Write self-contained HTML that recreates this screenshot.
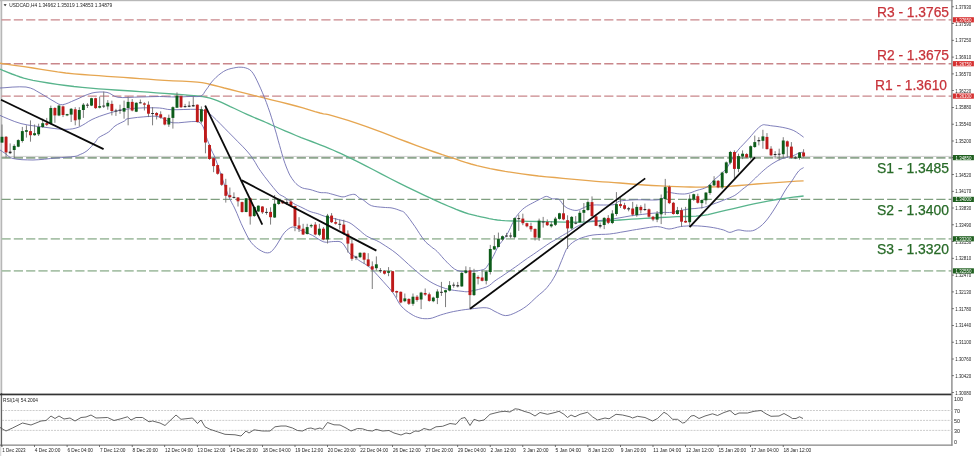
<!DOCTYPE html>
<html><head><meta charset="utf-8"><title>USDCAD H4</title>
<style>html,body{margin:0;padding:0;background:#fff;}body{width:975px;height:456px;overflow:hidden;position:relative;font-family:"Liberation Sans",sans-serif;}</style>
</head><body>
<svg width="975" height="456" viewBox="0 0 975 456" style="position:absolute;left:0;top:0;filter:blur(0.3px)">
<rect width="975" height="456" fill="#fff"/>
<rect x="0" y="0" width="1.3" height="456" fill="#dadada"/>
<rect x="1.2" y="0" width="1.0" height="394" fill="#a8a8a8"/>
<rect x="1.1" y="393" width="1.0" height="53.5" fill="#555"/>
<rect x="0" y="0" width="952.5" height="1.2" fill="#b8b8b8"/>
<line x1="1.5" y1="19.8" x2="951.9" y2="19.8" stroke="#c9868a" stroke-width="1.35" stroke-dasharray="9.2 3.1"/>
<line x1="1.5" y1="63.7" x2="951.9" y2="63.7" stroke="#c9868a" stroke-width="1.35" stroke-dasharray="9.2 3.1"/>
<line x1="1.5" y1="96.1" x2="951.9" y2="96.1" stroke="#c9868a" stroke-width="1.35" stroke-dasharray="9.2 3.1"/>
<line x1="1.5" y1="156.4" x2="951.9" y2="156.4" stroke="#b8b8b8" stroke-width="0.7"/>
<line x1="1.5" y1="157.9" x2="951.9" y2="157.9" stroke="#8ea78e" stroke-width="1.6" stroke-dasharray="9.2 3.1"/>
<line x1="1.5" y1="199.4" x2="951.9" y2="199.4" stroke="#7f9f7f" stroke-width="1.1" stroke-dasharray="9.2 3.1"/>
<line x1="1.5" y1="238.8" x2="951.9" y2="238.8" stroke="#a9c2a9" stroke-width="1.7" stroke-dasharray="9.2 3.1"/>
<line x1="1.5" y1="270.9" x2="951.9" y2="270.9" stroke="#a9c2a9" stroke-width="1.7" stroke-dasharray="9.2 3.1"/>
<polyline points="0.0,63.2 5.9,64.1 14.4,65.3 24.0,66.7 33.0,68.0 41.2,69.3 49.4,70.6 57.6,71.9 65.8,73.0 74.0,73.8 82.2,74.5 90.5,75.1 98.7,75.7 106.9,76.3 115.2,76.9 123.4,77.4 131.6,78.0 139.8,78.6 148.0,79.2 156.3,79.8 164.5,80.3 173.2,80.8 182.2,81.2 190.6,81.7 197.4,82.2 201.9,82.7 204.8,83.2 207.2,83.7 210.5,84.5 214.7,85.5 219.2,86.6 224.3,88.0 230.3,89.5 237.6,91.3 245.8,93.4 254.5,95.6 263.0,97.7 271.4,99.8 280.0,101.9 288.4,104.0 296.0,106.0 302.9,107.9 309.3,109.8 315.0,111.6 320.0,113.0 323.5,113.8 325.9,114.2 328.5,114.7 332.9,115.8 339.7,117.8 348.1,120.4 357.1,123.4 365.8,126.3 374.0,129.3 382.2,132.4 390.5,135.6 398.7,138.8 407.2,142.0 416.0,145.3 424.3,148.4 431.6,151.0 437.5,153.0 442.3,154.7 446.7,156.1 451.3,157.6 456.1,159.2 460.7,160.8 465.6,162.4 471.0,164.0 477.0,165.6 483.4,167.1 490.2,168.6 497.4,170.0 505.2,171.4 513.5,172.7 521.9,173.9 530.3,175.0 538.5,176.0 546.6,176.8 554.8,177.5 563.0,178.3 571.4,179.1 580.0,179.9 588.4,180.6 596.0,181.3 602.6,181.8 608.5,182.2 614.2,182.6 620.0,183.0 625.9,183.5 631.6,184.0 637.6,184.5 644.3,185.0 652.1,185.5 660.7,185.9 669.3,186.3 677.2,186.6 684.0,186.8 690.1,187.0 696.0,187.1 702.0,187.1 708.6,187.0 715.5,186.9 721.7,186.8 726.6,186.6 728.9,186.5 729.3,186.4 730.0,186.3 733.0,186.0 739.2,185.5 747.4,184.8 756.6,184.0 765.8,183.3 775.8,182.6 786.7,181.9 796.7,181.2 803.6,180.8" fill="none" stroke="#e6a651" stroke-width="1.35" stroke-linejoin="round"/>
<polyline points="0.0,69.0 2.9,70.3 7.2,72.1 11.9,74.0 16.4,75.7 20.2,77.0 23.7,78.1 27.7,79.2 33.0,80.3 40.1,81.6 48.4,83.0 57.2,84.3 65.8,85.5 74.0,86.5 82.2,87.3 90.5,88.1 98.7,88.8 106.9,89.4 115.2,90.0 123.4,90.5 131.6,91.0 139.8,91.6 148.0,92.2 156.3,92.8 164.5,93.4 173.1,94.0 182.0,94.6 190.3,95.3 197.4,96.0 202.7,96.7 206.6,97.4 210.1,98.2 213.8,99.3 217.9,100.8 222.0,102.7 226.2,104.6 230.3,106.6 234.5,108.5 238.7,110.5 242.9,112.5 247.0,114.4 251.1,116.2 255.3,118.0 259.3,119.6 263.0,121.2 266.1,122.5 268.7,123.7 271.5,125.0 275.0,126.5 279.6,128.5 285.0,130.8 290.6,133.2 296.0,135.5 301.2,137.6 306.5,139.6 311.6,141.5 316.4,143.4 320.8,145.1 324.9,146.7 328.9,148.3 332.9,150.0 337.0,151.8 341.1,153.7 345.2,155.6 349.3,157.6 353.0,159.4 356.5,161.1 360.5,163.1 365.8,165.8 372.9,169.5 381.2,173.9 390.1,178.5 398.7,182.9 407.3,187.1 416.2,191.4 424.5,195.4 431.6,198.7 436.9,201.1 440.8,202.9 444.3,204.4 448.0,206.0 452.1,207.7 456.2,209.4 460.4,211.0 464.5,212.5 468.6,213.8 472.8,214.9 476.9,215.9 481.0,216.8 485.1,217.7 489.2,218.6 493.3,219.4 497.4,220.0 501.1,220.4 504.6,220.7 508.5,220.8 513.8,221.0 520.9,221.2 529.2,221.4 538.1,221.5 546.7,221.7 555.2,221.9 563.9,222.1 572.3,222.2 579.6,222.2 585.6,222.0 590.6,221.7 595.2,221.3 600.0,221.0 604.9,220.8 609.8,220.5 614.7,220.3 620.0,220.0 625.6,219.6 631.3,219.2 637.5,218.8 644.3,218.4 652.1,218.0 660.7,217.5 669.3,217.1 677.2,216.7 684.0,216.5 690.1,216.4 696.0,216.2 702.0,215.6 708.1,214.6 714.1,213.2 720.2,211.7 726.6,210.2 733.5,208.6 740.8,206.8 748.1,205.1 755.0,203.6 761.5,202.3 767.8,201.1 773.9,200.0 780.0,199.0 786.6,198.1 793.4,197.2 799.4,196.5 803.6,196.0" fill="none" stroke="#58b48c" stroke-width="1.35" stroke-linejoin="round"/>
<polyline points="0.0,88.0 5.0,87.7 12.1,87.1 19.7,86.8 26.0,87.0 30.3,88.0 33.8,89.4 36.8,91.2 40.0,93.0 43.6,95.1 47.3,97.4 50.9,99.6 54.0,101.4 56.4,102.8 58.3,103.9 60.2,104.6 62.5,104.7 65.2,104.1 68.2,103.0 71.5,101.5 75.0,100.0 79.0,98.3 83.3,96.2 87.8,94.4 92.0,93.0 96.0,92.3 99.9,92.0 103.6,92.0 107.0,92.4 109.8,93.4 112.1,94.8 114.6,96.3 118.0,97.3 122.8,97.6 128.5,97.5 134.4,97.2 140.0,97.0 145.1,96.9 150.2,96.7 155.0,96.6 159.5,96.5 163.7,96.6 167.5,96.8 171.3,96.9 175.0,97.0 178.9,96.9 182.8,96.8 186.5,96.6 190.0,96.5 193.2,96.5 196.1,96.6 198.8,96.5 201.0,96.0 202.6,95.0 203.7,93.6 204.7,91.9 206.0,90.0 207.7,87.7 209.6,84.9 211.6,82.1 213.8,79.6 216.1,77.3 218.6,75.1 221.2,73.1 223.7,71.4 226.2,70.1 228.7,69.2 231.1,68.5 233.6,68.0 236.1,67.5 238.6,67.2 241.1,67.2 243.4,67.4 245.6,67.9 247.7,68.6 249.7,69.7 251.6,71.4 253.4,73.8 255.1,76.8 256.8,80.2 258.6,84.0 260.5,88.2 262.5,92.8 264.5,97.7 266.4,102.6 268.1,107.4 269.8,112.2 271.4,117.2 273.0,122.4 274.7,128.1 276.5,134.2 278.1,140.2 279.6,145.4 280.8,149.7 281.8,153.3 282.8,156.7 283.8,160.0 285.0,163.5 286.3,167.0 287.6,170.2 288.8,173.0 289.9,175.2 291.0,177.0 292.0,178.6 293.0,180.0 294.0,181.3 294.9,182.5 295.9,183.5 297.0,184.5 298.2,185.5 299.6,186.4 301.0,187.3 302.6,188.0 304.3,188.5 306.0,188.8 307.9,189.1 310.0,189.5 312.4,190.2 315.1,191.1 317.7,191.9 320.0,192.5 321.8,192.7 323.4,192.7 324.9,192.7 326.6,192.8 328.6,193.2 330.7,193.8 332.9,194.4 335.0,195.0 337.1,195.6 339.1,196.2 341.1,196.7 343.0,196.9 344.8,196.7 346.5,196.1 348.1,195.5 349.6,195.0 351.1,194.7 352.5,194.4 353.8,194.3 355.0,194.5 356.1,195.1 357.2,196.1 358.2,197.1 359.2,198.0 360.1,198.5 361.0,198.9 362.0,199.3 363.3,200.0 365.0,201.3 366.9,202.9 369.1,204.5 371.5,205.7 374.2,206.4 377.2,206.8 380.2,207.1 383.0,207.3 385.4,207.5 387.7,207.6 389.9,207.7 392.0,208.0 394.1,208.5 396.2,209.1 398.2,209.8 400.0,210.5 401.4,211.0 402.5,211.3 403.7,212.0 405.3,213.5 407.4,216.1 409.9,219.4 412.5,223.1 415.0,226.6 417.3,230.1 419.6,233.7 421.9,237.1 424.0,240.0 426.0,242.3 428.0,244.1 429.9,245.6 431.6,247.0 433.0,248.2 434.3,249.0 435.6,250.0 437.2,251.5 439.4,253.8 441.8,256.6 444.4,259.6 447.0,262.2 449.4,264.6 451.8,266.9 454.3,268.9 457.0,270.4 460.0,271.2 463.3,271.5 466.7,271.4 470.0,271.3 473.5,271.1 477.2,270.8 480.6,270.3 483.3,269.6 485.1,268.7 486.3,267.6 487.2,266.2 488.2,264.7 489.4,262.9 490.7,260.9 492.0,258.7 493.2,256.4 494.4,254.0 495.6,251.4 496.8,248.9 498.0,246.6 499.2,244.7 500.5,243.2 501.7,241.6 503.0,240.0 504.3,238.3 505.5,236.5 506.8,234.6 508.0,232.6 509.2,230.3 510.4,227.7 511.6,225.1 512.8,222.7 514.0,220.5 515.2,218.4 516.4,216.4 517.8,214.5 519.3,212.7 520.8,211.0 522.5,209.4 524.3,207.9 526.3,206.5 528.3,205.3 530.5,204.1 532.6,203.0 534.7,201.9 536.9,200.7 538.9,199.7 540.8,198.8 542.4,198.0 543.8,197.2 545.1,196.6 546.5,196.4 547.9,196.7 549.3,197.4 550.8,198.2 552.3,198.8 553.9,198.9 555.7,198.8 557.4,198.8 558.9,199.3 560.2,200.5 561.4,202.2 562.6,203.9 563.8,205.4 565.0,206.5 566.1,207.3 567.3,208.1 568.8,208.7 570.6,209.4 572.6,210.0 574.8,210.4 577.0,210.4 579.4,209.7 582.0,208.5 584.5,207.3 586.8,206.3 588.5,205.7 589.9,205.4 591.4,205.2 593.4,205.0 596.4,204.9 599.9,205.0 603.5,205.0 606.6,205.0 609.1,205.0 611.2,204.9 613.0,204.8 614.7,204.4 615.9,203.7 616.7,202.8 617.7,201.8 619.7,201.1 622.8,200.6 626.6,200.3 631.1,200.0 636.0,199.8 642.1,199.8 649.1,200.0 655.8,200.0 660.8,199.5 663.5,198.2 664.6,196.3 665.0,194.4 665.5,193.0 666.0,192.3 666.1,192.0 666.4,191.9 667.4,192.0 669.3,192.3 671.8,192.8 674.6,193.3 677.2,193.7 679.6,193.9 682.1,194.0 684.5,194.0 687.0,193.7 689.5,193.1 692.0,192.3 694.5,191.3 697.0,190.4 699.5,189.7 702.1,189.0 704.6,188.2 706.8,187.1 708.7,185.7 710.3,184.0 711.8,182.3 713.4,180.6 715.0,179.1 716.7,177.7 718.4,176.3 720.0,174.8 721.7,173.2 723.4,171.7 725.1,170.0 726.6,168.2 727.9,166.3 729.1,164.3 730.2,162.2 731.5,160.0 732.9,157.8 734.2,155.5 735.8,153.0 737.8,150.4 740.4,147.4 743.5,144.2 746.6,140.9 749.3,138.0 751.5,135.4 753.5,133.1 755.3,131.0 757.0,129.2 758.6,127.7 760.0,126.5 761.3,125.6 762.5,125.0 763.5,124.7 764.3,124.7 765.1,124.9 766.0,125.0 766.9,125.1 767.9,125.2 769.0,125.4 770.7,125.7 773.1,126.0 776.0,126.3 779.2,126.8 782.2,127.3 785.1,127.9 788.1,128.6 791.0,129.5 793.8,130.6 796.6,132.2 799.4,134.1 801.9,135.9 803.6,137.2" fill="none" stroke="#7070b2" stroke-width="0.9" stroke-linejoin="round"/>
<polyline points="0.0,115.4 3.6,117.0 8.8,119.2 14.8,121.6 21.0,123.6 27.8,125.0 35.2,126.1 42.6,127.0 49.0,127.8 54.1,128.5 58.4,129.0 62.3,129.3 66.0,129.4 69.5,129.2 72.8,128.8 75.8,128.1 79.0,127.0 82.2,125.4 85.4,123.5 88.6,121.4 92.0,119.5 95.6,117.9 99.3,116.4 103.1,115.1 107.0,113.8 110.9,112.6 114.9,111.5 118.9,110.5 123.0,109.7 127.1,109.1 131.3,108.6 135.6,108.2 140.0,108.0 144.9,107.8 150.1,107.8 155.1,107.8 159.5,108.0 162.7,108.4 165.1,108.9 167.7,109.4 171.4,109.7 177.0,109.7 183.9,109.5 190.6,109.3 196.0,109.3 199.4,109.5 201.6,109.8 203.2,110.3 205.0,111.0 206.8,111.8 208.3,112.7 210.1,114.1 212.6,116.3 216.1,119.6 220.2,123.7 224.7,128.3 229.0,132.7 233.4,137.1 238.0,141.8 242.4,146.2 246.0,150.0 248.6,153.0 250.5,155.4 252.0,157.6 253.7,160.0 255.3,162.5 256.7,165.0 258.4,167.9 260.8,171.4 264.4,176.3 268.9,182.1 273.4,187.7 277.0,192.0 279.4,194.3 281.1,195.4 282.5,196.0 284.3,197.0 286.6,198.6 289.0,200.3 291.5,202.1 293.7,203.5 295.6,204.6 297.3,205.4 298.9,206.1 300.8,207.0 303.0,208.1 305.4,209.3 307.8,210.5 310.0,211.5 311.9,212.1 313.6,212.6 315.3,213.0 317.2,213.5 319.4,214.3 321.9,215.3 324.4,216.2 326.6,217.0 328.5,217.5 330.2,217.8 331.8,218.1 333.7,218.5 335.9,219.0 338.4,219.6 340.8,220.1 343.0,220.7 344.9,221.2 346.6,221.6 348.2,222.2 350.0,223.0 351.9,224.2 353.9,225.7 355.9,227.3 358.0,229.0 360.1,230.7 362.2,232.6 364.4,234.4 366.6,236.0 369.0,237.3 371.6,238.5 374.1,239.5 376.4,240.5 378.1,241.4 379.5,242.1 381.0,243.0 383.0,244.3 385.7,246.0 388.9,248.1 392.3,250.4 396.0,253.2 399.9,256.5 404.1,260.3 408.4,264.3 412.6,268.0 416.7,271.5 420.8,275.0 424.9,278.2 429.0,281.0 433.1,283.4 437.2,285.4 441.4,287.1 445.5,288.5 449.8,289.6 454.3,290.4 458.5,290.9 462.0,291.3 464.4,291.6 466.0,291.8 467.6,291.7 470.0,291.3 473.7,290.5 478.3,289.5 482.8,288.2 486.6,286.9 489.3,285.5 491.3,283.9 493.1,282.3 495.0,280.8 496.9,279.5 498.7,278.3 500.7,277.1 503.0,275.5 505.9,273.5 509.3,271.2 512.7,268.8 515.8,266.7 518.3,264.9 520.5,263.3 522.6,261.7 525.0,260.0 527.7,258.1 530.7,256.1 533.7,254.1 536.7,252.0 539.8,249.8 543.1,247.6 546.2,245.4 549.0,243.5 551.3,242.0 553.4,240.9 555.3,239.8 557.5,238.5 560.0,237.0 562.7,235.4 565.4,233.8 568.0,232.3 570.4,230.7 572.8,229.2 575.0,227.7 577.0,226.5 578.6,225.7 579.8,225.1 581.1,224.6 582.5,224.0 584.2,223.3 586.1,222.5 588.0,221.7 590.0,221.2 591.8,221.0 593.6,220.9 595.7,220.9 598.4,220.7 601.8,220.3 605.8,219.8 610.2,219.3 614.8,218.6 619.7,217.8 624.9,216.9 630.3,215.9 636.0,215.1 642.3,214.4 649.0,213.6 655.5,213.0 660.8,212.6 664.5,212.4 667.2,212.5 669.5,212.5 672.3,212.3 675.7,211.7 679.4,210.9 683.2,210.0 687.0,209.3 690.9,208.8 694.9,208.5 698.7,208.1 702.0,207.7 704.4,207.2 706.1,206.7 707.8,206.0 710.0,205.2 713.0,204.1 716.4,202.9 720.0,201.6 723.3,200.3 726.4,199.1 729.4,198.0 732.2,196.7 734.8,195.4 737.1,193.8 739.2,192.1 741.2,190.4 743.0,188.8 744.7,187.6 746.1,186.5 747.6,185.4 749.3,184.0 751.2,182.2 753.3,180.1 755.5,178.0 757.6,175.9 759.7,174.0 761.7,172.1 763.8,170.2 765.8,168.5 767.8,166.9 769.9,165.4 771.9,164.0 774.0,162.7 776.0,161.5 778.0,160.4 780.0,159.5 782.2,158.6 784.6,157.9 787.2,157.3 789.7,156.7 792.0,156.1 793.9,155.4 795.7,154.6 797.2,153.8 798.7,153.2 800.2,152.8 801.6,152.4 802.8,152.2 803.6,152.0" fill="none" stroke="#7070b2" stroke-width="0.9" stroke-linejoin="round"/>
<polyline points="0.0,150.0 1.1,150.7 2.6,151.7 4.3,152.9 6.0,154.0 7.4,155.2 8.6,156.4 10.3,157.6 13.0,158.5 17.0,159.2 22.0,159.7 27.5,159.9 33.0,160.0 38.7,159.7 44.6,159.2 50.5,158.5 56.0,158.0 61.2,157.6 66.1,157.2 70.5,156.9 74.0,156.5 76.1,156.2 77.1,155.9 77.8,155.6 79.0,155.0 80.8,154.2 82.8,153.4 84.9,152.2 87.0,150.8 89.2,148.8 91.5,146.4 93.6,144.0 95.4,142.0 96.4,140.6 97.0,139.6 97.5,138.7 98.7,137.6 100.8,136.3 103.5,134.9 106.2,133.5 108.6,132.0 110.4,130.5 111.8,129.0 113.2,127.5 115.0,126.0 117.4,124.5 120.2,123.1 122.9,121.8 125.0,120.7 125.8,120.0 125.9,119.5 126.2,119.1 128.0,118.7 132.0,118.1 137.5,117.4 143.2,116.9 148.0,116.5 151.4,116.3 154.2,116.2 156.7,116.4 159.5,117.0 162.5,118.2 165.5,120.0 168.9,121.7 173.0,122.8 178.5,122.8 184.9,122.2 191.2,121.6 196.0,121.5 198.9,122.1 200.6,123.0 201.6,124.4 202.7,126.0 203.7,128.0 204.4,130.4 205.1,133.1 206.0,136.0 207.2,139.3 208.6,143.0 210.1,146.7 211.4,150.0 212.4,152.2 213.2,153.7 214.3,155.9 215.9,160.0 218.5,167.3 221.7,176.9 225.1,186.6 227.9,194.4 230.0,199.3 231.7,202.7 233.3,205.5 235.0,209.0 237.0,213.5 239.0,218.4 241.1,223.4 243.2,227.9 245.2,232.0 247.2,236.0 249.2,239.6 251.4,242.7 253.8,245.4 256.4,247.6 258.9,249.5 261.3,250.9 263.5,252.0 265.6,252.7 267.6,252.9 269.5,252.6 271.2,251.7 272.7,250.2 274.3,248.3 276.0,246.0 277.9,243.0 280.0,239.4 282.2,235.7 284.3,232.8 286.4,230.6 288.5,228.9 290.5,227.6 292.6,227.0 294.6,227.2 296.5,228.0 298.5,229.2 300.8,230.4 303.4,231.5 306.3,232.7 309.3,233.9 312.3,235.3 315.2,237.0 318.1,238.9 321.0,240.7 323.8,241.9 326.4,242.3 328.9,242.0 331.4,241.7 333.7,241.5 335.9,241.5 338.0,241.4 340.0,241.7 342.0,242.7 344.1,245.0 346.2,248.3 348.2,251.6 350.0,254.0 351.5,255.2 352.8,255.7 353.9,255.9 355.0,256.4 355.9,257.2 356.5,258.0 357.2,259.0 358.4,260.0 360.2,261.2 362.4,262.5 364.7,263.8 366.6,265.0 367.9,265.9 369.0,266.6 370.0,267.5 371.4,268.8 373.2,270.6 375.2,272.7 377.5,275.2 380.0,278.0 383.0,281.3 386.4,285.1 389.8,288.9 392.8,292.6 395.1,296.1 397.1,299.6 398.9,302.9 401.0,305.8 403.4,308.3 405.9,310.5 408.5,312.4 411.0,314.0 413.3,315.4 415.5,316.5 417.7,317.3 420.0,318.0 422.4,318.5 424.9,318.7 427.4,318.7 430.0,318.5 432.5,317.9 435.1,317.0 437.7,316.0 440.5,315.0 443.5,314.1 446.7,313.2 450.1,312.3 453.7,311.5 457.5,310.8 461.6,310.1 465.8,309.5 470.0,309.0 474.3,308.5 478.8,308.0 483.0,307.7 486.6,307.8 489.2,308.4 491.2,309.3 493.0,310.4 495.0,311.5 497.5,312.7 500.1,314.0 502.8,315.1 505.4,315.6 508.0,315.4 510.6,314.7 513.2,313.7 515.8,312.5 518.4,311.2 521.0,309.8 523.7,308.1 526.3,306.3 528.9,304.2 531.5,301.8 534.1,299.3 536.7,296.9 539.3,294.6 542.0,292.4 544.6,290.1 547.0,287.5 549.3,284.6 551.5,281.6 553.5,278.3 555.4,275.0 557.1,271.5 558.7,267.8 560.2,264.0 561.7,260.4 563.2,256.8 564.6,253.2 566.1,249.8 568.0,246.9 570.2,244.5 572.6,242.5 575.3,240.7 578.3,239.2 581.6,237.8 585.3,236.7 589.1,235.7 593.0,235.0 597.1,234.6 601.3,234.4 605.6,234.3 609.6,234.0 613.3,233.5 616.8,233.0 620.3,232.3 624.0,231.7 628.0,231.0 632.3,230.2 636.6,229.5 640.8,228.8 645.1,228.1 649.5,227.4 653.7,226.8 657.5,226.6 660.7,227.0 663.6,227.8 666.2,228.6 669.0,229.0 671.8,228.7 674.6,228.0 677.5,227.2 680.5,226.6 683.6,226.2 686.8,226.0 690.1,225.8 693.7,225.8 697.6,225.9 701.8,226.2 706.1,226.6 710.0,227.1 713.7,227.7 717.3,228.4 720.5,229.2 723.3,229.9 725.4,230.7 726.9,231.5 728.3,232.1 729.9,232.4 731.8,232.0 733.8,231.2 735.9,230.4 738.0,229.9 740.1,230.0 742.1,230.4 744.2,230.8 746.3,231.0 748.4,231.0 750.5,231.0 752.7,230.7 755.0,229.9 757.4,228.5 759.9,226.8 762.5,224.6 765.0,222.0 767.5,219.0 770.0,215.6 772.5,211.9 775.0,208.0 777.7,203.6 780.5,198.7 783.1,194.0 785.5,190.0 787.4,187.1 789.0,184.9 790.5,182.9 792.0,180.8 793.7,178.2 795.4,175.5 797.1,173.0 798.7,171.0 800.2,169.6 801.6,168.7 802.8,168.1 803.6,167.6" fill="none" stroke="#7070b2" stroke-width="0.9" stroke-linejoin="round"/>
<line x1="2.00" y1="124.5" x2="2.00" y2="142.6" stroke="#6e6e6e" stroke-width="0.9"/>
<rect x="0.55" y="136.8" width="2.9" height="5.8" fill="#0d5c1a"/>
<line x1="6.07" y1="136.0" x2="6.07" y2="157.4" stroke="#6e6e6e" stroke-width="0.9"/>
<rect x="4.62" y="136.8" width="2.9" height="15.6" fill="#be1a1a"/>
<line x1="10.14" y1="143.4" x2="10.14" y2="154.1" stroke="#6e6e6e" stroke-width="0.9"/>
<rect x="8.74" y="151.6" width="2.8" height="1.6" fill="#2a2a2a"/>
<line x1="14.21" y1="144.2" x2="14.21" y2="158.2" stroke="#6e6e6e" stroke-width="0.9"/>
<rect x="12.76" y="145.9" width="2.9" height="4.1" fill="#0d5c1a"/>
<line x1="18.28" y1="139.3" x2="18.28" y2="147.2" stroke="#6e6e6e" stroke-width="0.9"/>
<rect x="16.83" y="140.1" width="2.9" height="6.6" fill="#0d5c1a"/>
<line x1="22.34" y1="126.9" x2="22.34" y2="142.6" stroke="#6e6e6e" stroke-width="0.9"/>
<rect x="20.89" y="131.1" width="2.9" height="9.9" fill="#0d5c1a"/>
<line x1="26.41" y1="125.3" x2="26.41" y2="137.6" stroke="#6e6e6e" stroke-width="0.9"/>
<rect x="24.96" y="130.2" width="2.9" height="1.6" fill="#0d5c1a"/>
<line x1="30.48" y1="120.4" x2="30.48" y2="141.7" stroke="#6e6e6e" stroke-width="0.9"/>
<rect x="29.03" y="131.1" width="2.9" height="4.1" fill="#be1a1a"/>
<line x1="34.55" y1="124.5" x2="34.55" y2="135.7" stroke="#6e6e6e" stroke-width="0.9"/>
<rect x="33.10" y="133.2" width="2.9" height="2.0" fill="#0d5c1a"/>
<line x1="38.62" y1="123.7" x2="38.62" y2="136.0" stroke="#6e6e6e" stroke-width="0.9"/>
<rect x="37.17" y="126.9" width="2.9" height="7.4" fill="#0d5c1a"/>
<line x1="42.69" y1="118.7" x2="42.69" y2="127.8" stroke="#6e6e6e" stroke-width="0.9"/>
<rect x="41.24" y="123.2" width="2.9" height="3.8" fill="#0d5c1a"/>
<line x1="46.76" y1="117.9" x2="46.76" y2="126.1" stroke="#6e6e6e" stroke-width="0.9"/>
<rect x="45.31" y="123.2" width="2.9" height="1.6" fill="#be1a1a"/>
<line x1="50.83" y1="105.6" x2="50.83" y2="124.5" stroke="#6e6e6e" stroke-width="0.9"/>
<rect x="49.38" y="108.0" width="2.9" height="15.6" fill="#0d5c1a"/>
<line x1="54.90" y1="107.2" x2="54.90" y2="122.8" stroke="#6e6e6e" stroke-width="0.9"/>
<rect x="53.45" y="108.0" width="2.9" height="7.4" fill="#be1a1a"/>
<line x1="58.97" y1="104.7" x2="58.97" y2="116.2" stroke="#6e6e6e" stroke-width="0.9"/>
<rect x="57.52" y="105.6" width="2.9" height="9.9" fill="#0d5c1a"/>
<line x1="63.03" y1="105.6" x2="63.03" y2="117.1" stroke="#6e6e6e" stroke-width="0.9"/>
<rect x="61.58" y="106.4" width="2.9" height="8.6" fill="#be1a1a"/>
<line x1="67.10" y1="113.8" x2="67.10" y2="116.2" stroke="#6e6e6e" stroke-width="0.9"/>
<rect x="65.65" y="114.1" width="2.9" height="1.3" fill="#0d5c1a"/>
<line x1="71.17" y1="108.0" x2="71.17" y2="122.0" stroke="#6e6e6e" stroke-width="0.9"/>
<rect x="69.72" y="108.8" width="2.9" height="5.8" fill="#0d5c1a"/>
<line x1="75.24" y1="107.2" x2="75.24" y2="125.3" stroke="#6e6e6e" stroke-width="0.9"/>
<rect x="73.79" y="109.3" width="2.9" height="11.0" fill="#be1a1a"/>
<line x1="79.31" y1="107.2" x2="79.31" y2="126.1" stroke="#6e6e6e" stroke-width="0.9"/>
<rect x="77.86" y="110.0" width="2.9" height="9.5" fill="#0d5c1a"/>
<line x1="83.38" y1="103.1" x2="83.38" y2="117.9" stroke="#6e6e6e" stroke-width="0.9"/>
<rect x="81.93" y="104.7" width="2.9" height="5.3" fill="#0d5c1a"/>
<line x1="87.45" y1="103.1" x2="87.45" y2="108.0" stroke="#6e6e6e" stroke-width="0.9"/>
<rect x="86.05" y="104.7" width="2.8" height="1.0" fill="#2a2a2a"/>
<line x1="91.52" y1="97.8" x2="91.52" y2="106.1" stroke="#6e6e6e" stroke-width="0.9"/>
<rect x="90.07" y="98.2" width="2.9" height="7.4" fill="#0d5c1a"/>
<line x1="95.59" y1="97.8" x2="95.59" y2="108.8" stroke="#6e6e6e" stroke-width="0.9"/>
<rect x="94.14" y="98.2" width="2.9" height="9.9" fill="#be1a1a"/>
<line x1="99.66" y1="96.5" x2="99.66" y2="108.4" stroke="#6e6e6e" stroke-width="0.9"/>
<rect x="98.21" y="106.1" width="2.9" height="1.6" fill="#0d5c1a"/>
<line x1="103.72" y1="91.6" x2="103.72" y2="108.0" stroke="#6e6e6e" stroke-width="0.9"/>
<rect x="102.32" y="105.6" width="2.8" height="1.0" fill="#2a2a2a"/>
<line x1="107.79" y1="100.1" x2="107.79" y2="109.7" stroke="#6e6e6e" stroke-width="0.9"/>
<rect x="106.34" y="102.8" width="2.9" height="3.6" fill="#0d5c1a"/>
<line x1="111.86" y1="100.6" x2="111.86" y2="115.4" stroke="#6e6e6e" stroke-width="0.9"/>
<rect x="110.41" y="103.9" width="2.9" height="7.1" fill="#be1a1a"/>
<line x1="115.93" y1="108.8" x2="115.93" y2="115.9" stroke="#6e6e6e" stroke-width="0.9"/>
<rect x="114.53" y="110.5" width="2.8" height="1.0" fill="#2a2a2a"/>
<line x1="120.00" y1="104.7" x2="120.00" y2="113.8" stroke="#6e6e6e" stroke-width="0.9"/>
<rect x="118.60" y="109.7" width="2.8" height="1.0" fill="#2a2a2a"/>
<line x1="124.07" y1="100.6" x2="124.07" y2="118.7" stroke="#6e6e6e" stroke-width="0.9"/>
<rect x="122.62" y="108.0" width="2.9" height="3.6" fill="#0d5c1a"/>
<line x1="128.14" y1="96.5" x2="128.14" y2="125.3" stroke="#6e6e6e" stroke-width="0.9"/>
<rect x="126.69" y="101.9" width="2.9" height="6.1" fill="#0d5c1a"/>
<line x1="132.21" y1="99.0" x2="132.21" y2="111.3" stroke="#6e6e6e" stroke-width="0.9"/>
<rect x="130.76" y="101.9" width="2.9" height="8.6" fill="#be1a1a"/>
<line x1="136.28" y1="102.3" x2="136.28" y2="112.1" stroke="#6e6e6e" stroke-width="0.9"/>
<rect x="134.83" y="102.8" width="2.9" height="8.9" fill="#0d5c1a"/>
<line x1="140.35" y1="99.5" x2="140.35" y2="103.4" stroke="#6e6e6e" stroke-width="0.9"/>
<rect x="138.95" y="102.3" width="2.8" height="1.0" fill="#2a2a2a"/>
<line x1="144.41" y1="102.3" x2="144.41" y2="110.5" stroke="#6e6e6e" stroke-width="0.9"/>
<rect x="142.97" y="103.4" width="2.9" height="1.3" fill="#be1a1a"/>
<line x1="148.48" y1="101.4" x2="148.48" y2="117.1" stroke="#6e6e6e" stroke-width="0.9"/>
<rect x="147.03" y="104.7" width="2.9" height="9.0" fill="#be1a1a"/>
<line x1="152.55" y1="107.2" x2="152.55" y2="125.3" stroke="#6e6e6e" stroke-width="0.9"/>
<rect x="151.15" y="113.0" width="2.8" height="1.0" fill="#2a2a2a"/>
<line x1="156.62" y1="112.1" x2="156.62" y2="119.5" stroke="#6e6e6e" stroke-width="0.9"/>
<rect x="155.17" y="113.0" width="2.9" height="2.5" fill="#be1a1a"/>
<line x1="160.69" y1="111.3" x2="160.69" y2="118.7" stroke="#6e6e6e" stroke-width="0.9"/>
<rect x="159.24" y="114.3" width="2.9" height="3.3" fill="#be1a1a"/>
<line x1="164.76" y1="117.1" x2="164.76" y2="125.3" stroke="#6e6e6e" stroke-width="0.9"/>
<rect x="163.31" y="117.4" width="2.9" height="7.1" fill="#be1a1a"/>
<line x1="168.83" y1="114.6" x2="168.83" y2="126.9" stroke="#6e6e6e" stroke-width="0.9"/>
<rect x="167.38" y="117.9" width="2.9" height="6.6" fill="#0d5c1a"/>
<line x1="172.90" y1="106.4" x2="172.90" y2="128.6" stroke="#6e6e6e" stroke-width="0.9"/>
<rect x="171.45" y="107.2" width="2.9" height="10.7" fill="#0d5c1a"/>
<line x1="176.97" y1="92.4" x2="176.97" y2="108.0" stroke="#6e6e6e" stroke-width="0.9"/>
<rect x="175.52" y="95.7" width="2.9" height="12.0" fill="#0d5c1a"/>
<line x1="181.04" y1="95.7" x2="181.04" y2="108.0" stroke="#6e6e6e" stroke-width="0.9"/>
<rect x="179.59" y="96.2" width="2.9" height="11.0" fill="#be1a1a"/>
<line x1="185.10" y1="103.9" x2="185.10" y2="107.7" stroke="#6e6e6e" stroke-width="0.9"/>
<rect x="183.70" y="106.1" width="2.8" height="1.0" fill="#2a2a2a"/>
<line x1="189.17" y1="101.4" x2="189.17" y2="107.2" stroke="#6e6e6e" stroke-width="0.9"/>
<rect x="187.77" y="105.6" width="2.8" height="1.2" fill="#2a2a2a"/>
<line x1="193.24" y1="96.5" x2="193.24" y2="106.7" stroke="#6e6e6e" stroke-width="0.9"/>
<rect x="191.84" y="105.1" width="2.8" height="1.3" fill="#2a2a2a"/>
<line x1="197.31" y1="104.4" x2="197.31" y2="122.5" stroke="#6e6e6e" stroke-width="0.9"/>
<rect x="195.86" y="104.7" width="2.9" height="17.3" fill="#be1a1a"/>
<line x1="201.38" y1="106.4" x2="201.38" y2="123.2" stroke="#6e6e6e" stroke-width="0.9"/>
<rect x="199.93" y="109.3" width="2.9" height="12.2" fill="#0d5c1a"/>
<line x1="205.45" y1="105.6" x2="205.45" y2="153.3" stroke="#6e6e6e" stroke-width="0.9"/>
<rect x="204.00" y="109.3" width="2.9" height="33.2" fill="#be1a1a"/>
<line x1="209.52" y1="144.2" x2="209.52" y2="159.8" stroke="#6e6e6e" stroke-width="0.9"/>
<rect x="208.07" y="145.0" width="2.9" height="14.0" fill="#be1a1a"/>
<line x1="213.59" y1="157.4" x2="213.59" y2="172.2" stroke="#6e6e6e" stroke-width="0.9"/>
<rect x="212.14" y="158.2" width="2.9" height="7.9" fill="#be1a1a"/>
<line x1="217.66" y1="164.8" x2="217.66" y2="174.7" stroke="#6e6e6e" stroke-width="0.9"/>
<rect x="216.21" y="165.1" width="2.9" height="8.7" fill="#be1a1a"/>
<line x1="221.73" y1="173.0" x2="221.73" y2="185.9" stroke="#6e6e6e" stroke-width="0.9"/>
<rect x="220.28" y="173.8" width="2.9" height="11.0" fill="#be1a1a"/>
<line x1="225.79" y1="178.8" x2="225.79" y2="202.6" stroke="#6e6e6e" stroke-width="0.9"/>
<rect x="224.34" y="184.9" width="2.9" height="10.9" fill="#be1a1a"/>
<line x1="229.86" y1="187.5" x2="229.86" y2="197.7" stroke="#6e6e6e" stroke-width="0.9"/>
<rect x="228.41" y="195.2" width="2.9" height="2.0" fill="#be1a1a"/>
<line x1="233.93" y1="192.4" x2="233.93" y2="198.5" stroke="#6e6e6e" stroke-width="0.9"/>
<rect x="232.53" y="196.9" width="2.8" height="1.0" fill="#2a2a2a"/>
<line x1="238.00" y1="197.0" x2="238.00" y2="206.5" stroke="#6e6e6e" stroke-width="0.9"/>
<rect x="236.55" y="197.5" width="2.9" height="3.8" fill="#be1a1a"/>
<line x1="242.07" y1="201.6" x2="242.07" y2="212.6" stroke="#6e6e6e" stroke-width="0.9"/>
<rect x="240.62" y="202.1" width="2.9" height="9.9" fill="#be1a1a"/>
<line x1="246.14" y1="198.0" x2="246.14" y2="212.3" stroke="#6e6e6e" stroke-width="0.9"/>
<rect x="244.69" y="198.3" width="2.9" height="13.7" fill="#0d5c1a"/>
<line x1="250.21" y1="197.5" x2="250.21" y2="224.6" stroke="#6e6e6e" stroke-width="0.9"/>
<rect x="248.76" y="198.3" width="2.9" height="18.1" fill="#be1a1a"/>
<line x1="254.28" y1="206.5" x2="254.28" y2="216.9" stroke="#6e6e6e" stroke-width="0.9"/>
<rect x="252.83" y="207.0" width="2.9" height="9.0" fill="#0d5c1a"/>
<line x1="258.35" y1="205.4" x2="258.35" y2="211.9" stroke="#6e6e6e" stroke-width="0.9"/>
<rect x="256.90" y="205.7" width="2.9" height="5.8" fill="#0d5c1a"/>
<line x1="262.42" y1="206.2" x2="262.42" y2="213.9" stroke="#6e6e6e" stroke-width="0.9"/>
<rect x="260.97" y="206.5" width="2.9" height="5.8" fill="#be1a1a"/>
<line x1="266.49" y1="208.2" x2="266.49" y2="214.7" stroke="#6e6e6e" stroke-width="0.9"/>
<rect x="265.09" y="211.9" width="2.8" height="1.0" fill="#2a2a2a"/>
<line x1="270.55" y1="207.3" x2="270.55" y2="224.6" stroke="#6e6e6e" stroke-width="0.9"/>
<rect x="269.10" y="211.9" width="2.9" height="5.3" fill="#be1a1a"/>
<line x1="274.62" y1="195.0" x2="274.62" y2="218.0" stroke="#6e6e6e" stroke-width="0.9"/>
<rect x="273.17" y="203.7" width="2.9" height="13.8" fill="#0d5c1a"/>
<line x1="278.69" y1="198.8" x2="278.69" y2="204.9" stroke="#6e6e6e" stroke-width="0.9"/>
<rect x="277.24" y="199.1" width="2.9" height="4.9" fill="#0d5c1a"/>
<line x1="282.76" y1="199.9" x2="282.76" y2="204.0" stroke="#6e6e6e" stroke-width="0.9"/>
<rect x="281.31" y="200.8" width="2.9" height="2.5" fill="#be1a1a"/>
<line x1="286.83" y1="199.1" x2="286.83" y2="204.9" stroke="#6e6e6e" stroke-width="0.9"/>
<rect x="285.43" y="202.1" width="2.8" height="1.0" fill="#2a2a2a"/>
<line x1="290.90" y1="199.1" x2="290.90" y2="206.5" stroke="#6e6e6e" stroke-width="0.9"/>
<rect x="289.45" y="201.6" width="2.9" height="4.1" fill="#be1a1a"/>
<line x1="294.97" y1="205.7" x2="294.97" y2="231.2" stroke="#6e6e6e" stroke-width="0.9"/>
<rect x="293.52" y="206.0" width="2.9" height="20.2" fill="#be1a1a"/>
<line x1="299.04" y1="217.2" x2="299.04" y2="232.0" stroke="#6e6e6e" stroke-width="0.9"/>
<rect x="297.59" y="225.4" width="2.9" height="3.3" fill="#be1a1a"/>
<line x1="303.11" y1="223.8" x2="303.11" y2="235.0" stroke="#6e6e6e" stroke-width="0.9"/>
<rect x="301.66" y="228.7" width="2.9" height="5.8" fill="#be1a1a"/>
<line x1="307.18" y1="223.8" x2="307.18" y2="234.5" stroke="#6e6e6e" stroke-width="0.9"/>
<rect x="305.73" y="227.1" width="2.9" height="6.9" fill="#0d5c1a"/>
<line x1="311.24" y1="223.8" x2="311.24" y2="227.9" stroke="#6e6e6e" stroke-width="0.9"/>
<rect x="309.79" y="225.1" width="2.9" height="1.2" fill="#0d5c1a"/>
<line x1="315.31" y1="222.1" x2="315.31" y2="235.3" stroke="#6e6e6e" stroke-width="0.9"/>
<rect x="313.86" y="224.6" width="2.9" height="9.9" fill="#be1a1a"/>
<line x1="319.38" y1="223.8" x2="319.38" y2="236.1" stroke="#6e6e6e" stroke-width="0.9"/>
<rect x="317.93" y="228.7" width="2.9" height="6.1" fill="#0d5c1a"/>
<line x1="323.45" y1="227.1" x2="323.45" y2="240.2" stroke="#6e6e6e" stroke-width="0.9"/>
<rect x="322.00" y="228.7" width="2.9" height="10.7" fill="#be1a1a"/>
<line x1="327.52" y1="213.9" x2="327.52" y2="243.5" stroke="#6e6e6e" stroke-width="0.9"/>
<rect x="326.07" y="215.6" width="2.9" height="23.8" fill="#0d5c1a"/>
<line x1="331.59" y1="213.1" x2="331.59" y2="223.0" stroke="#6e6e6e" stroke-width="0.9"/>
<rect x="330.14" y="215.6" width="2.9" height="6.6" fill="#be1a1a"/>
<line x1="335.66" y1="218.0" x2="335.66" y2="224.6" stroke="#6e6e6e" stroke-width="0.9"/>
<rect x="334.21" y="222.1" width="2.9" height="1.6" fill="#be1a1a"/>
<line x1="339.73" y1="219.7" x2="339.73" y2="229.5" stroke="#6e6e6e" stroke-width="0.9"/>
<rect x="338.33" y="223.8" width="2.8" height="1.0" fill="#2a2a2a"/>
<line x1="343.80" y1="219.7" x2="343.80" y2="234.5" stroke="#6e6e6e" stroke-width="0.9"/>
<rect x="342.35" y="224.6" width="2.9" height="9.0" fill="#be1a1a"/>
<line x1="347.87" y1="230.4" x2="347.87" y2="252.6" stroke="#6e6e6e" stroke-width="0.9"/>
<rect x="346.42" y="233.7" width="2.9" height="9.9" fill="#be1a1a"/>
<line x1="351.93" y1="239.4" x2="351.93" y2="260.8" stroke="#6e6e6e" stroke-width="0.9"/>
<rect x="350.48" y="243.5" width="2.9" height="15.3" fill="#be1a1a"/>
<line x1="356.00" y1="255.8" x2="356.00" y2="260.1" stroke="#6e6e6e" stroke-width="0.9"/>
<rect x="354.60" y="256.6" width="2.8" height="1.2" fill="#2a2a2a"/>
<line x1="360.07" y1="252.3" x2="360.07" y2="258.1" stroke="#6e6e6e" stroke-width="0.9"/>
<rect x="358.62" y="252.8" width="2.9" height="4.4" fill="#0d5c1a"/>
<line x1="364.14" y1="252.3" x2="364.14" y2="263.8" stroke="#6e6e6e" stroke-width="0.9"/>
<rect x="362.69" y="252.8" width="2.9" height="6.9" fill="#be1a1a"/>
<line x1="368.21" y1="253.2" x2="368.21" y2="267.1" stroke="#6e6e6e" stroke-width="0.9"/>
<rect x="366.76" y="259.4" width="2.9" height="6.6" fill="#be1a1a"/>
<line x1="372.28" y1="261.4" x2="372.28" y2="289.0" stroke="#6e6e6e" stroke-width="0.9"/>
<rect x="370.83" y="266.3" width="2.9" height="3.3" fill="#be1a1a"/>
<line x1="376.35" y1="256.4" x2="376.35" y2="270.4" stroke="#6e6e6e" stroke-width="0.9"/>
<rect x="374.90" y="264.3" width="2.9" height="3.9" fill="#0d5c1a"/>
<line x1="380.42" y1="268.0" x2="380.42" y2="272.9" stroke="#6e6e6e" stroke-width="0.9"/>
<rect x="379.02" y="270.1" width="2.8" height="1.2" fill="#2a2a2a"/>
<line x1="384.49" y1="270.1" x2="384.49" y2="274.5" stroke="#6e6e6e" stroke-width="0.9"/>
<rect x="383.04" y="270.9" width="2.9" height="2.8" fill="#be1a1a"/>
<line x1="388.56" y1="267.1" x2="388.56" y2="276.2" stroke="#6e6e6e" stroke-width="0.9"/>
<rect x="387.11" y="271.2" width="2.9" height="1.6" fill="#0d5c1a"/>
<line x1="392.62" y1="270.9" x2="392.62" y2="292.6" stroke="#6e6e6e" stroke-width="0.9"/>
<rect x="391.17" y="271.2" width="2.9" height="20.6" fill="#be1a1a"/>
<line x1="396.69" y1="290.7" x2="396.69" y2="297.6" stroke="#6e6e6e" stroke-width="0.9"/>
<rect x="395.24" y="291.0" width="2.9" height="1.6" fill="#be1a1a"/>
<line x1="400.76" y1="291.5" x2="400.76" y2="303.3" stroke="#6e6e6e" stroke-width="0.9"/>
<rect x="399.31" y="291.8" width="2.9" height="10.7" fill="#be1a1a"/>
<line x1="404.83" y1="293.5" x2="404.83" y2="302.2" stroke="#6e6e6e" stroke-width="0.9"/>
<rect x="403.38" y="298.4" width="2.9" height="2.8" fill="#0d5c1a"/>
<line x1="408.90" y1="298.4" x2="408.90" y2="305.0" stroke="#6e6e6e" stroke-width="0.9"/>
<rect x="407.45" y="298.9" width="2.9" height="4.9" fill="#be1a1a"/>
<line x1="412.97" y1="293.5" x2="412.97" y2="305.8" stroke="#6e6e6e" stroke-width="0.9"/>
<rect x="411.52" y="296.7" width="2.9" height="7.1" fill="#0d5c1a"/>
<line x1="417.04" y1="295.1" x2="417.04" y2="301.7" stroke="#6e6e6e" stroke-width="0.9"/>
<rect x="415.59" y="296.7" width="2.9" height="3.3" fill="#be1a1a"/>
<line x1="421.11" y1="291.8" x2="421.11" y2="309.1" stroke="#6e6e6e" stroke-width="0.9"/>
<rect x="419.66" y="292.6" width="2.9" height="6.9" fill="#0d5c1a"/>
<line x1="425.18" y1="288.5" x2="425.18" y2="295.9" stroke="#6e6e6e" stroke-width="0.9"/>
<rect x="423.73" y="293.0" width="2.9" height="1.6" fill="#be1a1a"/>
<line x1="429.25" y1="292.6" x2="429.25" y2="301.7" stroke="#6e6e6e" stroke-width="0.9"/>
<rect x="427.80" y="294.3" width="2.9" height="6.6" fill="#be1a1a"/>
<line x1="433.31" y1="296.7" x2="433.31" y2="302.2" stroke="#6e6e6e" stroke-width="0.9"/>
<rect x="431.86" y="297.6" width="2.9" height="3.6" fill="#0d5c1a"/>
<line x1="437.38" y1="289.3" x2="437.38" y2="304.1" stroke="#6e6e6e" stroke-width="0.9"/>
<rect x="435.93" y="291.5" width="2.9" height="6.4" fill="#0d5c1a"/>
<line x1="441.45" y1="281.9" x2="441.45" y2="295.9" stroke="#6e6e6e" stroke-width="0.9"/>
<rect x="440.05" y="291.8" width="2.8" height="1.0" fill="#2a2a2a"/>
<line x1="445.52" y1="289.7" x2="445.52" y2="307.1" stroke="#6e6e6e" stroke-width="0.9"/>
<rect x="444.07" y="290.2" width="2.9" height="2.1" fill="#0d5c1a"/>
<line x1="449.59" y1="281.1" x2="449.59" y2="291.3" stroke="#6e6e6e" stroke-width="0.9"/>
<rect x="448.14" y="285.2" width="2.9" height="5.4" fill="#0d5c1a"/>
<line x1="453.66" y1="282.4" x2="453.66" y2="287.7" stroke="#6e6e6e" stroke-width="0.9"/>
<rect x="452.26" y="284.7" width="2.8" height="1.0" fill="#2a2a2a"/>
<line x1="457.73" y1="281.9" x2="457.73" y2="287.4" stroke="#6e6e6e" stroke-width="0.9"/>
<rect x="456.33" y="285.2" width="2.8" height="1.2" fill="#2a2a2a"/>
<line x1="461.80" y1="272.1" x2="461.80" y2="286.9" stroke="#6e6e6e" stroke-width="0.9"/>
<rect x="460.35" y="272.9" width="2.9" height="13.5" fill="#0d5c1a"/>
<line x1="465.87" y1="266.3" x2="465.87" y2="273.7" stroke="#6e6e6e" stroke-width="0.9"/>
<rect x="464.42" y="270.4" width="2.9" height="2.5" fill="#0d5c1a"/>
<line x1="469.94" y1="267.1" x2="469.94" y2="309.1" stroke="#6e6e6e" stroke-width="0.9"/>
<rect x="468.49" y="270.4" width="2.9" height="24.7" fill="#be1a1a"/>
<line x1="474.00" y1="268.8" x2="474.00" y2="295.9" stroke="#6e6e6e" stroke-width="0.9"/>
<rect x="472.55" y="272.9" width="2.9" height="22.2" fill="#0d5c1a"/>
<line x1="478.07" y1="275.4" x2="478.07" y2="284.4" stroke="#6e6e6e" stroke-width="0.9"/>
<rect x="476.62" y="277.0" width="2.9" height="1.6" fill="#be1a1a"/>
<line x1="482.14" y1="270.4" x2="482.14" y2="281.4" stroke="#6e6e6e" stroke-width="0.9"/>
<rect x="480.69" y="277.5" width="2.9" height="3.3" fill="#be1a1a"/>
<line x1="486.21" y1="270.4" x2="486.21" y2="284.4" stroke="#6e6e6e" stroke-width="0.9"/>
<rect x="484.76" y="271.6" width="2.9" height="9.2" fill="#0d5c1a"/>
<line x1="490.28" y1="244.9" x2="490.28" y2="274.5" stroke="#6e6e6e" stroke-width="0.9"/>
<rect x="488.83" y="249.0" width="2.9" height="23.0" fill="#0d5c1a"/>
<line x1="494.35" y1="235.1" x2="494.35" y2="249.9" stroke="#6e6e6e" stroke-width="0.9"/>
<rect x="492.90" y="246.2" width="2.9" height="3.3" fill="#0d5c1a"/>
<line x1="498.42" y1="232.6" x2="498.42" y2="247.4" stroke="#6e6e6e" stroke-width="0.9"/>
<rect x="496.97" y="239.1" width="2.9" height="7.9" fill="#0d5c1a"/>
<line x1="502.49" y1="235.5" x2="502.49" y2="240.8" stroke="#6e6e6e" stroke-width="0.9"/>
<rect x="501.04" y="236.2" width="2.9" height="3.3" fill="#0d5c1a"/>
<line x1="506.56" y1="232.9" x2="506.56" y2="237.2" stroke="#6e6e6e" stroke-width="0.9"/>
<rect x="505.16" y="235.5" width="2.8" height="1.0" fill="#2a2a2a"/>
<line x1="510.62" y1="232.6" x2="510.62" y2="238.3" stroke="#6e6e6e" stroke-width="0.9"/>
<rect x="509.23" y="235.5" width="2.8" height="1.0" fill="#2a2a2a"/>
<line x1="514.69" y1="217.4" x2="514.69" y2="238.3" stroke="#6e6e6e" stroke-width="0.9"/>
<rect x="513.24" y="218.1" width="2.9" height="19.1" fill="#0d5c1a"/>
<line x1="518.76" y1="214.5" x2="518.76" y2="230.9" stroke="#6e6e6e" stroke-width="0.9"/>
<rect x="517.36" y="218.1" width="2.8" height="1.0" fill="#2a2a2a"/>
<line x1="522.83" y1="213.7" x2="522.83" y2="225.2" stroke="#6e6e6e" stroke-width="0.9"/>
<rect x="521.38" y="218.6" width="2.9" height="4.6" fill="#be1a1a"/>
<line x1="526.90" y1="222.7" x2="526.90" y2="227.3" stroke="#6e6e6e" stroke-width="0.9"/>
<rect x="525.45" y="223.2" width="2.9" height="3.1" fill="#be1a1a"/>
<line x1="530.97" y1="222.7" x2="530.97" y2="231.7" stroke="#6e6e6e" stroke-width="0.9"/>
<rect x="529.52" y="226.0" width="2.9" height="3.3" fill="#be1a1a"/>
<line x1="535.04" y1="228.5" x2="535.04" y2="240.5" stroke="#6e6e6e" stroke-width="0.9"/>
<rect x="533.59" y="228.9" width="2.9" height="8.6" fill="#be1a1a"/>
<line x1="539.11" y1="218.6" x2="539.11" y2="240.8" stroke="#6e6e6e" stroke-width="0.9"/>
<rect x="537.66" y="220.7" width="2.9" height="17.1" fill="#0d5c1a"/>
<line x1="543.18" y1="216.9" x2="543.18" y2="227.6" stroke="#6e6e6e" stroke-width="0.9"/>
<rect x="541.78" y="221.5" width="2.8" height="1.0" fill="#2a2a2a"/>
<line x1="547.25" y1="219.4" x2="547.25" y2="226.0" stroke="#6e6e6e" stroke-width="0.9"/>
<rect x="545.80" y="221.9" width="2.9" height="3.3" fill="#be1a1a"/>
<line x1="551.31" y1="221.1" x2="551.31" y2="227.6" stroke="#6e6e6e" stroke-width="0.9"/>
<rect x="549.86" y="224.3" width="2.9" height="2.0" fill="#0d5c1a"/>
<line x1="555.38" y1="216.9" x2="555.38" y2="226.0" stroke="#6e6e6e" stroke-width="0.9"/>
<rect x="553.93" y="218.6" width="2.9" height="6.2" fill="#0d5c1a"/>
<line x1="559.45" y1="212.8" x2="559.45" y2="219.7" stroke="#6e6e6e" stroke-width="0.9"/>
<rect x="558.00" y="213.3" width="2.9" height="5.6" fill="#0d5c1a"/>
<line x1="563.52" y1="199.7" x2="563.52" y2="220.2" stroke="#6e6e6e" stroke-width="0.9"/>
<rect x="562.07" y="213.3" width="2.9" height="6.1" fill="#be1a1a"/>
<line x1="567.59" y1="215.3" x2="567.59" y2="249.0" stroke="#6e6e6e" stroke-width="0.9"/>
<rect x="566.14" y="220.2" width="2.9" height="8.2" fill="#be1a1a"/>
<line x1="571.66" y1="216.1" x2="571.66" y2="229.6" stroke="#6e6e6e" stroke-width="0.9"/>
<rect x="570.21" y="216.9" width="2.9" height="11.5" fill="#0d5c1a"/>
<line x1="575.73" y1="216.1" x2="575.73" y2="224.3" stroke="#6e6e6e" stroke-width="0.9"/>
<rect x="574.33" y="222.7" width="2.8" height="1.0" fill="#2a2a2a"/>
<line x1="579.80" y1="210.4" x2="579.80" y2="223.0" stroke="#6e6e6e" stroke-width="0.9"/>
<rect x="578.35" y="212.8" width="2.9" height="9.5" fill="#0d5c1a"/>
<line x1="583.87" y1="203.0" x2="583.87" y2="221.9" stroke="#6e6e6e" stroke-width="0.9"/>
<rect x="582.42" y="210.0" width="2.9" height="2.8" fill="#0d5c1a"/>
<line x1="587.94" y1="200.5" x2="587.94" y2="210.9" stroke="#6e6e6e" stroke-width="0.9"/>
<rect x="586.49" y="202.1" width="2.9" height="7.9" fill="#0d5c1a"/>
<line x1="592.00" y1="196.4" x2="592.00" y2="216.9" stroke="#6e6e6e" stroke-width="0.9"/>
<rect x="590.55" y="202.1" width="2.9" height="14.0" fill="#be1a1a"/>
<line x1="596.07" y1="215.9" x2="596.07" y2="226.1" stroke="#6e6e6e" stroke-width="0.9"/>
<rect x="594.62" y="216.4" width="2.9" height="9.4" fill="#be1a1a"/>
<line x1="600.14" y1="222.5" x2="600.14" y2="228.3" stroke="#6e6e6e" stroke-width="0.9"/>
<rect x="598.74" y="225.0" width="2.8" height="1.6" fill="#2a2a2a"/>
<line x1="604.21" y1="217.2" x2="604.21" y2="229.1" stroke="#6e6e6e" stroke-width="0.9"/>
<rect x="602.76" y="217.9" width="2.9" height="7.1" fill="#0d5c1a"/>
<line x1="608.28" y1="215.1" x2="608.28" y2="224.1" stroke="#6e6e6e" stroke-width="0.9"/>
<rect x="606.83" y="217.9" width="2.9" height="4.9" fill="#be1a1a"/>
<line x1="612.35" y1="210.2" x2="612.35" y2="224.1" stroke="#6e6e6e" stroke-width="0.9"/>
<rect x="610.90" y="213.5" width="2.9" height="9.5" fill="#0d5c1a"/>
<line x1="616.42" y1="192.1" x2="616.42" y2="215.9" stroke="#6e6e6e" stroke-width="0.9"/>
<rect x="614.97" y="204.1" width="2.9" height="9.9" fill="#0d5c1a"/>
<line x1="620.49" y1="197.8" x2="620.49" y2="208.0" stroke="#6e6e6e" stroke-width="0.9"/>
<rect x="619.04" y="204.1" width="2.9" height="2.0" fill="#be1a1a"/>
<line x1="624.56" y1="202.8" x2="624.56" y2="209.7" stroke="#6e6e6e" stroke-width="0.9"/>
<rect x="623.11" y="205.2" width="2.9" height="3.6" fill="#be1a1a"/>
<line x1="628.63" y1="206.9" x2="628.63" y2="211.3" stroke="#6e6e6e" stroke-width="0.9"/>
<rect x="627.23" y="208.2" width="2.8" height="1.2" fill="#2a2a2a"/>
<line x1="632.69" y1="201.9" x2="632.69" y2="216.2" stroke="#6e6e6e" stroke-width="0.9"/>
<rect x="631.24" y="208.5" width="2.9" height="6.1" fill="#be1a1a"/>
<line x1="636.76" y1="204.4" x2="636.76" y2="216.7" stroke="#6e6e6e" stroke-width="0.9"/>
<rect x="635.31" y="206.9" width="2.9" height="8.2" fill="#0d5c1a"/>
<line x1="640.83" y1="205.2" x2="640.83" y2="213.5" stroke="#6e6e6e" stroke-width="0.9"/>
<rect x="639.38" y="206.9" width="2.9" height="3.3" fill="#be1a1a"/>
<line x1="644.90" y1="203.6" x2="644.90" y2="211.0" stroke="#6e6e6e" stroke-width="0.9"/>
<rect x="643.50" y="209.0" width="2.8" height="1.0" fill="#2a2a2a"/>
<line x1="648.97" y1="208.5" x2="648.97" y2="217.6" stroke="#6e6e6e" stroke-width="0.9"/>
<rect x="647.52" y="209.3" width="2.9" height="7.4" fill="#be1a1a"/>
<line x1="653.04" y1="215.9" x2="653.04" y2="221.2" stroke="#6e6e6e" stroke-width="0.9"/>
<rect x="651.59" y="216.7" width="2.9" height="2.8" fill="#be1a1a"/>
<line x1="657.11" y1="211.0" x2="657.11" y2="222.2" stroke="#6e6e6e" stroke-width="0.9"/>
<rect x="655.66" y="213.5" width="2.9" height="6.1" fill="#0d5c1a"/>
<line x1="661.18" y1="194.5" x2="661.18" y2="224.1" stroke="#6e6e6e" stroke-width="0.9"/>
<rect x="659.73" y="198.2" width="2.9" height="16.1" fill="#0d5c1a"/>
<line x1="665.25" y1="178.9" x2="665.25" y2="215.1" stroke="#6e6e6e" stroke-width="0.9"/>
<rect x="663.80" y="187.1" width="2.9" height="12.0" fill="#0d5c1a"/>
<line x1="669.32" y1="185.5" x2="669.32" y2="204.1" stroke="#6e6e6e" stroke-width="0.9"/>
<rect x="667.87" y="186.8" width="2.9" height="16.3" fill="#be1a1a"/>
<line x1="673.38" y1="201.9" x2="673.38" y2="214.6" stroke="#6e6e6e" stroke-width="0.9"/>
<rect x="671.93" y="202.8" width="2.9" height="11.2" fill="#be1a1a"/>
<line x1="677.45" y1="206.9" x2="677.45" y2="214.6" stroke="#6e6e6e" stroke-width="0.9"/>
<rect x="676.00" y="210.2" width="2.9" height="3.8" fill="#0d5c1a"/>
<line x1="681.52" y1="207.7" x2="681.52" y2="226.6" stroke="#6e6e6e" stroke-width="0.9"/>
<rect x="680.07" y="210.2" width="2.9" height="11.5" fill="#be1a1a"/>
<line x1="685.59" y1="206.9" x2="685.59" y2="222.8" stroke="#6e6e6e" stroke-width="0.9"/>
<rect x="684.14" y="220.9" width="2.9" height="1.6" fill="#be1a1a"/>
<line x1="689.66" y1="194.5" x2="689.66" y2="226.6" stroke="#6e6e6e" stroke-width="0.9"/>
<rect x="688.21" y="198.7" width="2.9" height="23.5" fill="#0d5c1a"/>
<line x1="693.73" y1="193.7" x2="693.73" y2="200.8" stroke="#6e6e6e" stroke-width="0.9"/>
<rect x="692.28" y="194.2" width="2.9" height="5.3" fill="#0d5c1a"/>
<line x1="697.80" y1="193.7" x2="697.80" y2="203.6" stroke="#6e6e6e" stroke-width="0.9"/>
<rect x="696.35" y="196.2" width="2.9" height="6.6" fill="#be1a1a"/>
<line x1="701.87" y1="199.5" x2="701.87" y2="208.5" stroke="#6e6e6e" stroke-width="0.9"/>
<rect x="700.42" y="200.0" width="2.9" height="3.1" fill="#0d5c1a"/>
<line x1="705.94" y1="192.1" x2="705.94" y2="204.4" stroke="#6e6e6e" stroke-width="0.9"/>
<rect x="704.49" y="192.6" width="2.9" height="7.7" fill="#0d5c1a"/>
<line x1="710.01" y1="184.1" x2="710.01" y2="194.8" stroke="#6e6e6e" stroke-width="0.9"/>
<rect x="708.56" y="184.9" width="2.9" height="8.1" fill="#0d5c1a"/>
<line x1="714.08" y1="176.2" x2="714.08" y2="186.1" stroke="#6e6e6e" stroke-width="0.9"/>
<rect x="712.62" y="180.5" width="2.9" height="4.9" fill="#0d5c1a"/>
<line x1="718.14" y1="180.0" x2="718.14" y2="188.2" stroke="#6e6e6e" stroke-width="0.9"/>
<rect x="716.69" y="180.8" width="2.9" height="6.6" fill="#be1a1a"/>
<line x1="722.21" y1="171.7" x2="722.21" y2="189.0" stroke="#6e6e6e" stroke-width="0.9"/>
<rect x="720.76" y="172.6" width="2.9" height="14.8" fill="#0d5c1a"/>
<line x1="726.28" y1="161.5" x2="726.28" y2="173.9" stroke="#6e6e6e" stroke-width="0.9"/>
<rect x="724.83" y="162.4" width="2.9" height="10.5" fill="#0d5c1a"/>
<line x1="730.35" y1="150.9" x2="730.35" y2="164.3" stroke="#6e6e6e" stroke-width="0.9"/>
<rect x="728.90" y="152.0" width="2.9" height="10.7" fill="#0d5c1a"/>
<line x1="734.42" y1="150.4" x2="734.42" y2="178.3" stroke="#6e6e6e" stroke-width="0.9"/>
<rect x="732.97" y="152.0" width="2.9" height="16.9" fill="#be1a1a"/>
<line x1="738.49" y1="153.7" x2="738.49" y2="172.2" stroke="#6e6e6e" stroke-width="0.9"/>
<rect x="737.04" y="156.1" width="2.9" height="12.8" fill="#0d5c1a"/>
<line x1="742.56" y1="150.4" x2="742.56" y2="159.1" stroke="#6e6e6e" stroke-width="0.9"/>
<rect x="741.11" y="153.7" width="2.9" height="2.8" fill="#0d5c1a"/>
<line x1="746.63" y1="153.2" x2="746.63" y2="158.1" stroke="#6e6e6e" stroke-width="0.9"/>
<rect x="745.18" y="154.1" width="2.9" height="3.3" fill="#be1a1a"/>
<line x1="750.70" y1="145.4" x2="750.70" y2="159.4" stroke="#6e6e6e" stroke-width="0.9"/>
<rect x="749.25" y="146.2" width="2.9" height="11.5" fill="#0d5c1a"/>
<line x1="754.76" y1="135.6" x2="754.76" y2="147.9" stroke="#6e6e6e" stroke-width="0.9"/>
<rect x="753.31" y="142.1" width="2.9" height="4.9" fill="#0d5c1a"/>
<line x1="758.83" y1="137.2" x2="758.83" y2="145.4" stroke="#6e6e6e" stroke-width="0.9"/>
<rect x="757.43" y="140.0" width="2.8" height="1.3" fill="#2a2a2a"/>
<line x1="762.90" y1="129.8" x2="762.90" y2="148.7" stroke="#6e6e6e" stroke-width="0.9"/>
<rect x="761.45" y="136.4" width="2.9" height="4.4" fill="#0d5c1a"/>
<line x1="766.97" y1="133.1" x2="766.97" y2="149.5" stroke="#6e6e6e" stroke-width="0.9"/>
<rect x="765.52" y="136.9" width="2.9" height="12.2" fill="#be1a1a"/>
<line x1="771.04" y1="146.2" x2="771.04" y2="156.1" stroke="#6e6e6e" stroke-width="0.9"/>
<rect x="769.59" y="148.7" width="2.9" height="6.6" fill="#be1a1a"/>
<line x1="775.11" y1="151.2" x2="775.11" y2="158.6" stroke="#6e6e6e" stroke-width="0.9"/>
<rect x="773.71" y="154.0" width="2.8" height="1.0" fill="#2a2a2a"/>
<line x1="779.18" y1="148.7" x2="779.18" y2="160.2" stroke="#6e6e6e" stroke-width="0.9"/>
<rect x="777.78" y="153.7" width="2.8" height="1.0" fill="#2a2a2a"/>
<line x1="783.25" y1="137.2" x2="783.25" y2="158.1" stroke="#6e6e6e" stroke-width="0.9"/>
<rect x="781.80" y="140.5" width="2.9" height="13.7" fill="#0d5c1a"/>
<line x1="787.32" y1="140.5" x2="787.32" y2="157.8" stroke="#6e6e6e" stroke-width="0.9"/>
<rect x="785.87" y="141.3" width="2.9" height="5.3" fill="#be1a1a"/>
<line x1="791.39" y1="142.1" x2="791.39" y2="158.6" stroke="#6e6e6e" stroke-width="0.9"/>
<rect x="789.94" y="146.6" width="2.9" height="11.2" fill="#be1a1a"/>
<line x1="795.46" y1="156.1" x2="795.46" y2="159.1" stroke="#6e6e6e" stroke-width="0.9"/>
<rect x="794.06" y="157.4" width="2.8" height="1.0" fill="#2a2a2a"/>
<line x1="799.52" y1="152.0" x2="799.52" y2="159.7" stroke="#6e6e6e" stroke-width="0.9"/>
<rect x="798.07" y="152.5" width="2.9" height="5.6" fill="#0d5c1a"/>
<line x1="803.59" y1="149.2" x2="803.59" y2="157.4" stroke="#6e6e6e" stroke-width="0.9"/>
<rect x="802.14" y="152.5" width="2.9" height="3.9" fill="#be1a1a"/>
<line x1="1" y1="99.8" x2="103.6" y2="149.1" stroke="#0a0a0a" stroke-width="1.8" stroke-linecap="butt"/>
<line x1="205.2" y1="105.6" x2="262.3" y2="224.6" stroke="#0a0a0a" stroke-width="1.8" stroke-linecap="butt"/>
<line x1="241.9" y1="180.4" x2="376.4" y2="250.6" stroke="#0a0a0a" stroke-width="1.8" stroke-linecap="butt"/>
<line x1="470.1" y1="308.8" x2="645.2" y2="178.4" stroke="#0a0a0a" stroke-width="1.8" stroke-linecap="butt"/>
<line x1="689.6" y1="227.1" x2="755" y2="157.4" stroke="#0a0a0a" stroke-width="1.8" stroke-linecap="butt"/>
<rect x="0" y="393.6" width="951.9" height="1.7" fill="#333"/>
<rect x="0" y="444.6" width="952.5" height="1.0" fill="#666"/>
<rect x="951.1999999999999" y="0" width="1.4" height="445.6" fill="#8a8a8a"/>
<line x1="2" y1="410.5" x2="951.9" y2="410.5" stroke="#c6c6c6" stroke-width="0.9" stroke-dasharray="2 1.06"/>
<line x1="2" y1="420.4" x2="951.9" y2="420.4" stroke="#c6c6c6" stroke-width="0.9" stroke-dasharray="2 1.06"/>
<line x1="2" y1="430.4" x2="951.9" y2="430.4" stroke="#c6c6c6" stroke-width="0.9" stroke-dasharray="2 1.06"/>
<polyline points="0.0,427.5 6.0,431.0 12.5,428.0 22.5,423.0 31.0,425.0 41.0,421.0 46.0,420.5 51.0,416.0 55.0,418.5 59.0,416.0 64.0,419.0 70.0,418.0 75.0,421.0 81.0,417.5 86.0,417.0 91.0,415.0 96.0,418.0 107.5,417.5 114.0,420.5 120.0,419.0 127.5,416.8 131.0,420.0 136.0,417.5 142.5,417.5 149.0,421.8 152.5,421.0 160.0,423.0 165.0,425.5 176.0,415.0 181.0,419.3 192.5,418.0 197.5,423.5 201.0,420.0 205.0,426.8 210.0,429.3 217.5,431.8 225.0,434.3 235.0,434.8 241.0,436.0 246.0,431.0 249.0,433.0 254.0,429.8 262.5,431.0 270.0,431.0 275.0,426.8 281.0,426.0 286.0,426.0 292.5,428.0 297.5,430.5 302.5,431.0 307.5,428.5 311.0,428.0 315.0,429.3 320.0,428.0 322.5,429.3 327.5,422.5 334.0,424.8 340.0,425.0 346.0,428.0 351.0,431.0 357.5,428.5 362.5,428.8 367.5,430.5 372.5,431.0 376.0,429.3 382.5,431.0 389.0,430.5 394.0,433.0 401.0,435.0 406.0,433.0 410.0,433.8 415.0,431.0 419.0,431.3 424.0,428.5 430.0,430.0 436.0,426.8 442.5,426.3 450.0,423.5 456.0,424.3 461.0,418.5 465.0,417.5 470.0,425.5 474.0,419.3 479.0,421.0 484.0,420.0 490.0,414.3 495.0,413.0 500.0,411.8 505.0,411.3 510.0,412.0 515.0,408.8 519.0,409.3 524.0,411.3 530.0,413.0 535.0,416.0 540.0,412.5 547.5,414.3 555.0,412.5 559.0,411.3 564.0,414.3 567.5,417.5 571.0,415.0 575.0,416.8 580.0,414.3 587.5,412.3 592.5,416.8 597.5,420.0 605.0,418.0 609.0,418.8 616.0,414.3 622.5,415.0 630.0,416.8 632.5,418.0 637.5,416.3 645.0,417.5 652.5,421.0 657.5,418.5 664.0,412.3 667.5,414.3 672.5,419.3 677.5,419.3 682.5,423.0 685.0,422.5 691.0,416.0 694.0,415.5 699.0,418.5 705.0,416.0 712.5,413.8 717.5,415.5 724.0,412.5 730.0,410.5 735.0,414.8 739.0,413.0 747.5,413.0 754.0,411.3 761.0,410.5 766.0,413.8 771.0,416.3 779.0,416.0 784.0,413.5 789.0,416.3 792.5,418.5 796.0,418.5 799.5,416.8 803.0,418.5" fill="none" stroke="#555" stroke-width="0.9" stroke-linejoin="round"/>
<rect x="951.9" y="6.4" width="2" height="0.8" fill="#555"/>
<text x="955.2" y="8.8" font-family="Liberation Sans, sans-serif" font-size="5.4" fill="#1a1a1a" textLength="16" lengthAdjust="spacingAndGlyphs">1.37930</text>
<rect x="951.9" y="23.2" width="2" height="0.8" fill="#555"/>
<text x="955.2" y="25.6" font-family="Liberation Sans, sans-serif" font-size="5.4" fill="#1a1a1a" textLength="16" lengthAdjust="spacingAndGlyphs">1.37590</text>
<rect x="951.9" y="39.9" width="2" height="0.8" fill="#555"/>
<text x="955.2" y="42.3" font-family="Liberation Sans, sans-serif" font-size="5.4" fill="#1a1a1a" textLength="16" lengthAdjust="spacingAndGlyphs">1.37250</text>
<rect x="951.9" y="56.7" width="2" height="0.8" fill="#555"/>
<text x="955.2" y="59.1" font-family="Liberation Sans, sans-serif" font-size="5.4" fill="#1a1a1a" textLength="16" lengthAdjust="spacingAndGlyphs">1.36910</text>
<rect x="951.9" y="73.5" width="2" height="0.8" fill="#555"/>
<text x="955.2" y="75.9" font-family="Liberation Sans, sans-serif" font-size="5.4" fill="#1a1a1a" textLength="16" lengthAdjust="spacingAndGlyphs">1.36570</text>
<rect x="951.9" y="90.2" width="2" height="0.8" fill="#555"/>
<text x="955.2" y="92.6" font-family="Liberation Sans, sans-serif" font-size="5.4" fill="#1a1a1a" textLength="16" lengthAdjust="spacingAndGlyphs">1.36220</text>
<rect x="951.9" y="107.0" width="2" height="0.8" fill="#555"/>
<text x="955.2" y="109.4" font-family="Liberation Sans, sans-serif" font-size="5.4" fill="#1a1a1a" textLength="16" lengthAdjust="spacingAndGlyphs">1.35880</text>
<rect x="951.9" y="123.8" width="2" height="0.8" fill="#555"/>
<text x="955.2" y="126.2" font-family="Liberation Sans, sans-serif" font-size="5.4" fill="#1a1a1a" textLength="16" lengthAdjust="spacingAndGlyphs">1.35540</text>
<rect x="951.9" y="140.6" width="2" height="0.8" fill="#555"/>
<text x="955.2" y="143.0" font-family="Liberation Sans, sans-serif" font-size="5.4" fill="#1a1a1a" textLength="16" lengthAdjust="spacingAndGlyphs">1.35200</text>
<rect x="951.9" y="157.3" width="2" height="0.8" fill="#555"/>
<text x="955.2" y="159.7" font-family="Liberation Sans, sans-serif" font-size="5.4" fill="#1a1a1a" textLength="16" lengthAdjust="spacingAndGlyphs">1.34860</text>
<rect x="951.9" y="174.1" width="2" height="0.8" fill="#555"/>
<text x="955.2" y="176.5" font-family="Liberation Sans, sans-serif" font-size="5.4" fill="#1a1a1a" textLength="16" lengthAdjust="spacingAndGlyphs">1.34520</text>
<rect x="951.9" y="190.9" width="2" height="0.8" fill="#555"/>
<text x="955.2" y="193.3" font-family="Liberation Sans, sans-serif" font-size="5.4" fill="#1a1a1a" textLength="16" lengthAdjust="spacingAndGlyphs">1.34170</text>
<rect x="951.9" y="207.6" width="2" height="0.8" fill="#555"/>
<text x="955.2" y="210.0" font-family="Liberation Sans, sans-serif" font-size="5.4" fill="#1a1a1a" textLength="16" lengthAdjust="spacingAndGlyphs">1.33830</text>
<rect x="951.9" y="224.4" width="2" height="0.8" fill="#555"/>
<text x="955.2" y="226.8" font-family="Liberation Sans, sans-serif" font-size="5.4" fill="#1a1a1a" textLength="16" lengthAdjust="spacingAndGlyphs">1.33490</text>
<rect x="951.9" y="241.2" width="2" height="0.8" fill="#555"/>
<text x="955.2" y="243.6" font-family="Liberation Sans, sans-serif" font-size="5.4" fill="#1a1a1a" textLength="16" lengthAdjust="spacingAndGlyphs">1.33150</text>
<rect x="951.9" y="257.9" width="2" height="0.8" fill="#555"/>
<text x="955.2" y="260.3" font-family="Liberation Sans, sans-serif" font-size="5.4" fill="#1a1a1a" textLength="16" lengthAdjust="spacingAndGlyphs">1.32810</text>
<rect x="951.9" y="274.7" width="2" height="0.8" fill="#555"/>
<text x="955.2" y="277.1" font-family="Liberation Sans, sans-serif" font-size="5.4" fill="#1a1a1a" textLength="16" lengthAdjust="spacingAndGlyphs">1.32470</text>
<rect x="951.9" y="291.5" width="2" height="0.8" fill="#555"/>
<text x="955.2" y="293.9" font-family="Liberation Sans, sans-serif" font-size="5.4" fill="#1a1a1a" textLength="16" lengthAdjust="spacingAndGlyphs">1.32130</text>
<rect x="951.9" y="308.3" width="2" height="0.8" fill="#555"/>
<text x="955.2" y="310.7" font-family="Liberation Sans, sans-serif" font-size="5.4" fill="#1a1a1a" textLength="16" lengthAdjust="spacingAndGlyphs">1.31780</text>
<rect x="951.9" y="325.0" width="2" height="0.8" fill="#555"/>
<text x="955.2" y="327.4" font-family="Liberation Sans, sans-serif" font-size="5.4" fill="#1a1a1a" textLength="16" lengthAdjust="spacingAndGlyphs">1.31440</text>
<rect x="951.9" y="341.8" width="2" height="0.8" fill="#555"/>
<text x="955.2" y="344.2" font-family="Liberation Sans, sans-serif" font-size="5.4" fill="#1a1a1a" textLength="16" lengthAdjust="spacingAndGlyphs">1.31100</text>
<rect x="951.9" y="358.6" width="2" height="0.8" fill="#555"/>
<text x="955.2" y="361.0" font-family="Liberation Sans, sans-serif" font-size="5.4" fill="#1a1a1a" textLength="16" lengthAdjust="spacingAndGlyphs">1.30760</text>
<rect x="951.9" y="375.3" width="2" height="0.8" fill="#555"/>
<text x="955.2" y="377.7" font-family="Liberation Sans, sans-serif" font-size="5.4" fill="#1a1a1a" textLength="16" lengthAdjust="spacingAndGlyphs">1.30420</text>
<rect x="951.9" y="392.1" width="2" height="0.8" fill="#555"/>
<text x="955.2" y="394.5" font-family="Liberation Sans, sans-serif" font-size="5.4" fill="#1a1a1a" textLength="16" lengthAdjust="spacingAndGlyphs">1.30080</text>
<text x="954" y="400.8" font-family="Liberation Sans, sans-serif" font-size="5.4" fill="#1a1a1a">100</text>
<text x="954" y="413.0" font-family="Liberation Sans, sans-serif" font-size="5.4" fill="#1a1a1a">70</text>
<text x="954" y="422.6" font-family="Liberation Sans, sans-serif" font-size="5.4" fill="#1a1a1a">50</text>
<text x="954" y="432.5" font-family="Liberation Sans, sans-serif" font-size="5.4" fill="#1a1a1a">30</text>
<text x="954" y="443.8" font-family="Liberation Sans, sans-serif" font-size="5.4" fill="#1a1a1a">0</text>
<rect x="952.9" y="17.2" width="21" height="5.2" fill="#d63030"/>
<text x="955.5" y="21.7" font-family="Liberation Sans, sans-serif" font-size="5.2" fill="#fff" textLength="16" lengthAdjust="spacingAndGlyphs">1.37650</text>
<rect x="952.9" y="61.1" width="21" height="5.2" fill="#d63030"/>
<text x="955.5" y="65.6" font-family="Liberation Sans, sans-serif" font-size="5.2" fill="#fff" textLength="16" lengthAdjust="spacingAndGlyphs">1.36750</text>
<rect x="952.9" y="93.5" width="21" height="5.2" fill="#d63030"/>
<text x="955.5" y="98.0" font-family="Liberation Sans, sans-serif" font-size="5.2" fill="#fff" textLength="16" lengthAdjust="spacingAndGlyphs">1.36100</text>
<rect x="952.9" y="155.0" width="21" height="5.2" fill="#1f5f1f"/>
<text x="955.5" y="159.5" font-family="Liberation Sans, sans-serif" font-size="5.2" fill="#fff" textLength="16" lengthAdjust="spacingAndGlyphs">1.34850</text>
<rect x="952.9" y="196.8" width="21" height="5.2" fill="#1f5f1f"/>
<text x="955.5" y="201.3" font-family="Liberation Sans, sans-serif" font-size="5.2" fill="#fff" textLength="16" lengthAdjust="spacingAndGlyphs">1.34000</text>
<rect x="952.9" y="236.2" width="21" height="5.2" fill="#1f5f1f"/>
<text x="955.5" y="240.7" font-family="Liberation Sans, sans-serif" font-size="5.2" fill="#fff" textLength="16" lengthAdjust="spacingAndGlyphs">1.33200</text>
<rect x="952.9" y="268.3" width="21" height="5.2" fill="#1f5f1f"/>
<text x="955.5" y="272.8" font-family="Liberation Sans, sans-serif" font-size="5.2" fill="#fff" textLength="16" lengthAdjust="spacingAndGlyphs">1.32550</text>
<path d="M3.6 4.2 L6.6 4.2 L5.1 6.2 Z" fill="#222"/>
<text x="9.2" y="7.4" font-family="Liberation Sans, sans-serif" font-size="5.6" fill="#1a1a1a" textLength="103" lengthAdjust="spacingAndGlyphs">USDCAD,H4  1.34962 1.35019 1.34853 1.34879</text>
<text x="3" y="401.7" font-family="Liberation Sans, sans-serif" font-size="5.4" fill="#1a1a1a" textLength="35" lengthAdjust="spacingAndGlyphs">RSI(14) 54.2004</text>
<rect x="1.6" y="445" width="0.8" height="2" fill="#555"/>
<text x="2.3" y="451.8" font-family="Liberation Sans, sans-serif" font-size="5.4" fill="#1a1a1a" textLength="23.2" lengthAdjust="spacingAndGlyphs">1 Dec 2023</text>
<rect x="34.1" y="445" width="0.8" height="2" fill="#555"/>
<text x="34.8" y="451.8" font-family="Liberation Sans, sans-serif" font-size="5.4" fill="#1a1a1a" textLength="25.5" lengthAdjust="spacingAndGlyphs">4 Dec 20:00</text>
<rect x="66.7" y="445" width="0.8" height="2" fill="#555"/>
<text x="67.4" y="451.8" font-family="Liberation Sans, sans-serif" font-size="5.4" fill="#1a1a1a" textLength="25.5" lengthAdjust="spacingAndGlyphs">6 Dec 04:00</text>
<rect x="99.2" y="445" width="0.8" height="2" fill="#555"/>
<text x="99.9" y="451.8" font-family="Liberation Sans, sans-serif" font-size="5.4" fill="#1a1a1a" textLength="25.5" lengthAdjust="spacingAndGlyphs">7 Dec 12:00</text>
<rect x="131.8" y="445" width="0.8" height="2" fill="#555"/>
<text x="132.5" y="451.8" font-family="Liberation Sans, sans-serif" font-size="5.4" fill="#1a1a1a" textLength="25.5" lengthAdjust="spacingAndGlyphs">8 Dec 20:00</text>
<rect x="164.3" y="445" width="0.8" height="2" fill="#555"/>
<text x="165.1" y="451.8" font-family="Liberation Sans, sans-serif" font-size="5.4" fill="#1a1a1a" textLength="27.8" lengthAdjust="spacingAndGlyphs">12 Dec 04:00</text>
<rect x="196.9" y="445" width="0.8" height="2" fill="#555"/>
<text x="197.6" y="451.8" font-family="Liberation Sans, sans-serif" font-size="5.4" fill="#1a1a1a" textLength="27.8" lengthAdjust="spacingAndGlyphs">13 Dec 12:00</text>
<rect x="229.4" y="445" width="0.8" height="2" fill="#555"/>
<text x="230.1" y="451.8" font-family="Liberation Sans, sans-serif" font-size="5.4" fill="#1a1a1a" textLength="27.8" lengthAdjust="spacingAndGlyphs">14 Dec 20:00</text>
<rect x="262.0" y="445" width="0.8" height="2" fill="#555"/>
<text x="262.7" y="451.8" font-family="Liberation Sans, sans-serif" font-size="5.4" fill="#1a1a1a" textLength="27.8" lengthAdjust="spacingAndGlyphs">18 Dec 04:00</text>
<rect x="294.6" y="445" width="0.8" height="2" fill="#555"/>
<text x="295.2" y="451.8" font-family="Liberation Sans, sans-serif" font-size="5.4" fill="#1a1a1a" textLength="27.8" lengthAdjust="spacingAndGlyphs">19 Dec 12:00</text>
<rect x="327.1" y="445" width="0.8" height="2" fill="#555"/>
<text x="327.8" y="451.8" font-family="Liberation Sans, sans-serif" font-size="5.4" fill="#1a1a1a" textLength="27.8" lengthAdjust="spacingAndGlyphs">20 Dec 20:00</text>
<rect x="359.6" y="445" width="0.8" height="2" fill="#555"/>
<text x="360.3" y="451.8" font-family="Liberation Sans, sans-serif" font-size="5.4" fill="#1a1a1a" textLength="27.8" lengthAdjust="spacingAndGlyphs">22 Dec 04:00</text>
<rect x="392.2" y="445" width="0.8" height="2" fill="#555"/>
<text x="392.9" y="451.8" font-family="Liberation Sans, sans-serif" font-size="5.4" fill="#1a1a1a" textLength="27.8" lengthAdjust="spacingAndGlyphs">26 Dec 12:00</text>
<rect x="424.8" y="445" width="0.8" height="2" fill="#555"/>
<text x="425.4" y="451.8" font-family="Liberation Sans, sans-serif" font-size="5.4" fill="#1a1a1a" textLength="27.8" lengthAdjust="spacingAndGlyphs">27 Dec 20:00</text>
<rect x="457.3" y="445" width="0.8" height="2" fill="#555"/>
<text x="458.0" y="451.8" font-family="Liberation Sans, sans-serif" font-size="5.4" fill="#1a1a1a" textLength="27.8" lengthAdjust="spacingAndGlyphs">29 Dec 04:00</text>
<rect x="489.8" y="445" width="0.8" height="2" fill="#555"/>
<text x="490.5" y="451.8" font-family="Liberation Sans, sans-serif" font-size="5.4" fill="#1a1a1a" textLength="25.5" lengthAdjust="spacingAndGlyphs">2 Jan 12:00</text>
<rect x="522.4" y="445" width="0.8" height="2" fill="#555"/>
<text x="523.1" y="451.8" font-family="Liberation Sans, sans-serif" font-size="5.4" fill="#1a1a1a" textLength="25.5" lengthAdjust="spacingAndGlyphs">3 Jan 20:00</text>
<rect x="554.9" y="445" width="0.8" height="2" fill="#555"/>
<text x="555.6" y="451.8" font-family="Liberation Sans, sans-serif" font-size="5.4" fill="#1a1a1a" textLength="25.5" lengthAdjust="spacingAndGlyphs">5 Jan 04:00</text>
<rect x="587.5" y="445" width="0.8" height="2" fill="#555"/>
<text x="588.2" y="451.8" font-family="Liberation Sans, sans-serif" font-size="5.4" fill="#1a1a1a" textLength="25.5" lengthAdjust="spacingAndGlyphs">8 Jan 12:00</text>
<rect x="620.0" y="445" width="0.8" height="2" fill="#555"/>
<text x="620.7" y="451.8" font-family="Liberation Sans, sans-serif" font-size="5.4" fill="#1a1a1a" textLength="25.5" lengthAdjust="spacingAndGlyphs">9 Jan 20:00</text>
<rect x="652.6" y="445" width="0.8" height="2" fill="#555"/>
<text x="653.3" y="451.8" font-family="Liberation Sans, sans-serif" font-size="5.4" fill="#1a1a1a" textLength="27.8" lengthAdjust="spacingAndGlyphs">11 Jan 04:00</text>
<rect x="685.1" y="445" width="0.8" height="2" fill="#555"/>
<text x="685.8" y="451.8" font-family="Liberation Sans, sans-serif" font-size="5.4" fill="#1a1a1a" textLength="27.8" lengthAdjust="spacingAndGlyphs">12 Jan 12:00</text>
<rect x="717.7" y="445" width="0.8" height="2" fill="#555"/>
<text x="718.4" y="451.8" font-family="Liberation Sans, sans-serif" font-size="5.4" fill="#1a1a1a" textLength="27.8" lengthAdjust="spacingAndGlyphs">15 Jan 20:00</text>
<rect x="750.2" y="445" width="0.8" height="2" fill="#555"/>
<text x="750.9" y="451.8" font-family="Liberation Sans, sans-serif" font-size="5.4" fill="#1a1a1a" textLength="27.8" lengthAdjust="spacingAndGlyphs">17 Jan 04:00</text>
<rect x="782.8" y="445" width="0.8" height="2" fill="#555"/>
<text x="783.5" y="451.8" font-family="Liberation Sans, sans-serif" font-size="5.4" fill="#1a1a1a" textLength="27.8" lengthAdjust="spacingAndGlyphs">18 Jan 12:00</text>
<text x="949" y="17.1" text-anchor="end" font-family="Liberation Sans, sans-serif" font-size="14" fill="#c8333a" stroke="#c8333a" stroke-width="0.25" textLength="72" lengthAdjust="spacingAndGlyphs">R3 - 1.3765</text>
<text x="949" y="60" text-anchor="end" font-family="Liberation Sans, sans-serif" font-size="14" fill="#c8333a" stroke="#c8333a" stroke-width="0.25" textLength="72" lengthAdjust="spacingAndGlyphs">R2 - 1.3675</text>
<text x="947" y="90.3" text-anchor="end" font-family="Liberation Sans, sans-serif" font-size="14" fill="#c8333a" stroke="#c8333a" stroke-width="0.25" textLength="72" lengthAdjust="spacingAndGlyphs">R1 - 1.3610</text>
<text x="949" y="173.4" text-anchor="end" font-family="Liberation Sans, sans-serif" font-size="14" fill="#276a27" stroke="#276a27" stroke-width="0.25" textLength="72" lengthAdjust="spacingAndGlyphs">S1 - 1.3485</text>
<text x="949" y="214.7" text-anchor="end" font-family="Liberation Sans, sans-serif" font-size="14" fill="#276a27" stroke="#276a27" stroke-width="0.25" textLength="72" lengthAdjust="spacingAndGlyphs">S2 - 1.3400</text>
<text x="949" y="253.7" text-anchor="end" font-family="Liberation Sans, sans-serif" font-size="14" fill="#276a27" stroke="#276a27" stroke-width="0.25" textLength="72" lengthAdjust="spacingAndGlyphs">S3 - 1.3320</text>
</svg>
</body></html>
